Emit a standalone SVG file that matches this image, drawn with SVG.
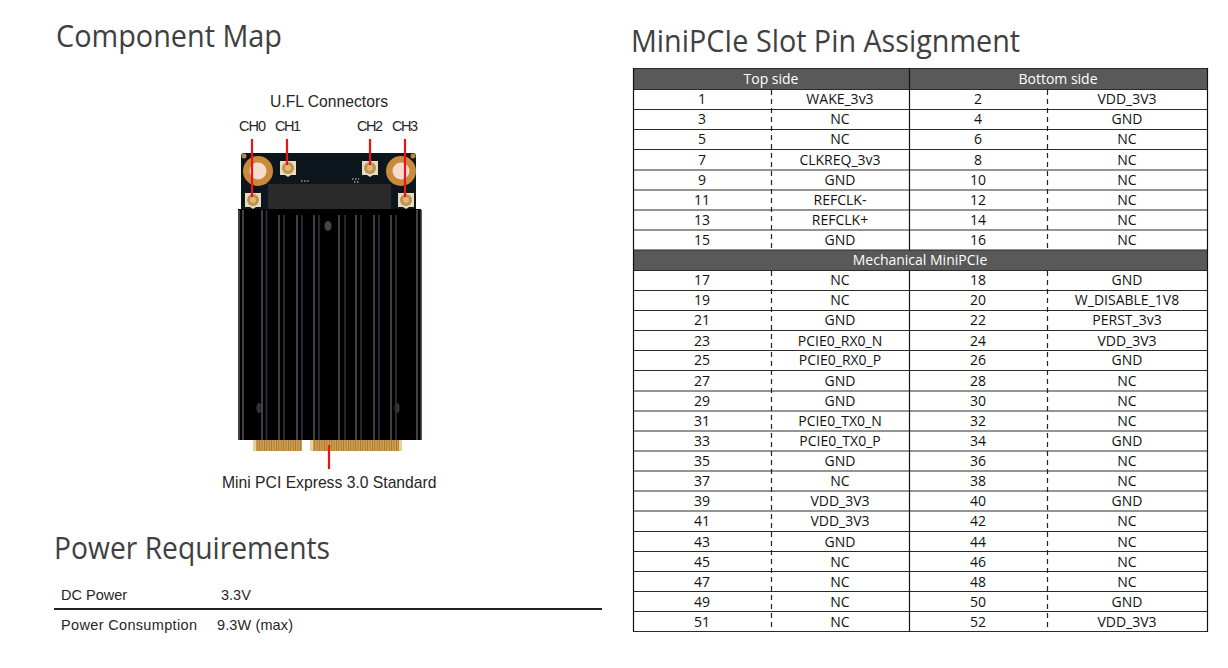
<svg xmlns="http://www.w3.org/2000/svg" width="1228" height="668" viewBox="0 0 1228 668">
<style>
text{font-family:"Open Sans","Noto Sans","Liberation Sans",sans-serif;fill:#1a1a1a}
.h{font-size:31px;fill:#404040}
.a{font-family:"Liberation Sans",Arial,sans-serif;font-size:14.5px;fill:#262626}
.a2{font-size:15.7px}
.c{font-size:14px;text-anchor:middle;fill:#111}
.w{fill:#fff}
.r{stroke:#2a2a2a;stroke-width:1.2}
.d{stroke:#222;stroke-width:1.2;stroke-dasharray:5 4}
.v{stroke:#111;stroke-width:1.2}
.red{stroke:#e8141c;stroke-width:2.2}
.fin{stroke:#7d7d7d;stroke-width:1}
.finb{stroke:#2d3042;stroke-width:1.6}
</style>
<defs>
<filter id="b" x="-5%" y="-5%" width="110%" height="110%"><feGaussianBlur stdDeviation="0.6"/></filter>
<pattern id="pins" width="2.4" height="14" patternUnits="userSpaceOnUse"><rect width="2.4" height="14" fill="#cfa055"/><rect width="0.9" height="14" fill="#a8762f"/></pattern>
<g id="ufl"><path d="M-8-7H8V7H3L0 9-3 7H-8Z" fill="#e6dcc4"/><circle r="6" fill="#c0924e"/><circle r="3" fill="#e0b878"/></g>
</defs>
<rect width="1228" height="668" fill="#fff"/>
<text class="h" x="56" y="47" textLength="226" lengthAdjust="spacingAndGlyphs">Component Map</text>
<text class="h" x="54" y="559" textLength="276" lengthAdjust="spacingAndGlyphs">Power Requirements</text>
<text class="h" x="631" y="52" textLength="389" lengthAdjust="spacingAndGlyphs">MiniPCIe Slot Pin Assignment</text>

<g id="photo" filter="url(#b)">
<rect x="241" y="153" width="175" height="60" rx="3" fill="#10141c"/>
<circle cx="244" cy="156" r="2.500" fill="#b58a3c"/><circle cx="413" cy="156" r="2.500" fill="#b58a3c"/>
<circle cx="258" cy="171" r="15" fill="#c98a3a"/><circle cx="258" cy="171" r="8.500" fill="#f6dccf"/>
<circle cx="401" cy="171" r="15" fill="#c98a3a"/><circle cx="401" cy="171" r="8.500" fill="#f6dccf"/>
<use href="#ufl" x="288" y="168"/><use href="#ufl" x="370" y="168"/>
<path d="M301 181h9M352 179h7M354 182h6" stroke="#ddd" stroke-width="1" stroke-dasharray="1.500 1.500"/>
<rect x="253" y="438" width="49" height="13" fill="url(#pins)"/>
<rect x="310" y="438" width="92" height="13" fill="url(#pins)"/>
<rect x="253" y="438" width="3" height="13" fill="#e6d29b"/><rect x="310" y="438" width="3" height="13" fill="#e6d29b"/><rect x="399" y="438" width="3" height="13" fill="#e6d29b"/>
<rect x="238" y="209" width="183" height="231" fill="#050505"/>
<rect x="268" y="184" width="123" height="25" fill="#2a2a2c"/>
<use href="#ufl" x="253" y="200"/><use href="#ufl" x="406" y="200"/>
<g class="fin">
<path d="M239 210V440M243 210V440M262 210V440M279 215V440M297 215V440M314 215V440M339 215V440M356 215V440M374 215V440M391 215V440M417 210V440"/>
</g>
<g class="finb">
<path d="M266.500 210V440M284 215V440M302 215V440M319 215V440M345 215V440M361 215V440M379 215V440M396 215V440M421 210V440"/>
</g>
<ellipse cx="328" cy="226" rx="3.500" ry="5" fill="#444"/>
<ellipse cx="259" cy="408" rx="2.500" ry="5" fill="#333"/>
<ellipse cx="397" cy="408" rx="2.500" ry="5" fill="#333"/>
</g>

<g id="callouts">
<path class="red" d="M252 139V197M287 139V165M370 139V165M405 139V197M329 445V469"/>
<text class="a a2" x="270" y="107">U.FL Connectors</text>
<text class="a" x="239" y="131" textLength="27">CH0</text><text class="a" x="275" y="131" textLength="26">CH1</text>
<text class="a" x="357" y="131" textLength="26">CH2</text><text class="a" x="392" y="131" textLength="26">CH3</text>
<text class="a a2" x="222" y="488">Mini PCI Express 3.0 Standard</text>
</g>

<g id="power">
<text class="a" x="61" y="600">DC Power</text><text class="a" x="221" y="600">3.3V</text>
<path d="M54 609H602" stroke="#222" stroke-width="2"/>
<text class="a" x="61" y="630" textLength="136">Power Consumption</text><text class="a" x="217" y="630" textLength="76">9.3W (max)</text>
</g>

<g id="pin-table">
<rect x="633" y="68" width="575" height="21" fill="#595959"/>
<rect x="633" y="250" width="575" height="20" fill="#595959"/>
<g class="r"><path d="M633 89.500H1208M633 109.500H1208M633 129.500H1208M633 149.500H1208M633 170H1208M633 190H1208M633 210H1208M633 230H1208M633 250H1208M633 270.500H1208M633 290.500H1208M633 310.500H1208M633 330.500H1208M633 350.500H1208M633 370.500H1208M633 391H1208M633 411H1208M633 431H1208M633 451H1208M633 471H1208M633 491H1208M633 511H1208M633 531.500H1208M633 551.500H1208M633 571.500H1208M633 591.500H1208M633 611.500H1208M633 631.500H1208M633 68.500H1208"/></g>
<path class="v" d="M633.500 68V632M909.500 68V250M909.500 270V632M1207.500 68V632"/>
<path class="d" d="M771.500 90V250M771.500 271V632M1047.500 90V250M1047.500 271V632"/>
<g>
<text class="c" style="fill:#fff" x="771" y="84">Top side</text><text class="c" style="fill:#fff" x="1058" y="84">Bottom side</text>
<text class="c" style="fill:#fff" x="920" y="265">Mechanical MiniPCIe</text>
<text class="c" x="702" y="104">1</text><text class="c" x="840" y="104">WAKE_3v3</text><text class="c" x="978" y="104">2</text><text class="c" x="1127" y="104">VDD_3V3</text>
<text class="c" x="702" y="124">3</text><text class="c" x="840" y="124">NC</text><text class="c" x="978" y="124">4</text><text class="c" x="1127" y="124">GND</text>
<text class="c" x="702" y="144">5</text><text class="c" x="840" y="144">NC</text><text class="c" x="978" y="144">6</text><text class="c" x="1127" y="144">NC</text>
<text class="c" x="702" y="165">7</text><text class="c" x="840" y="165">CLKREQ_3v3</text><text class="c" x="978" y="165">8</text><text class="c" x="1127" y="165">NC</text>
<text class="c" x="702" y="185">9</text><text class="c" x="840" y="185">GND</text><text class="c" x="978" y="185">10</text><text class="c" x="1127" y="185">NC</text>
<text class="c" x="702" y="205">11</text><text class="c" x="840" y="205">REFCLK-</text><text class="c" x="978" y="205">12</text><text class="c" x="1127" y="205">NC</text>
<text class="c" x="702" y="225">13</text><text class="c" x="840" y="225">REFCLK+</text><text class="c" x="978" y="225">14</text><text class="c" x="1127" y="225">NC</text>
<text class="c" x="702" y="245">15</text><text class="c" x="840" y="245">GND</text><text class="c" x="978" y="245">16</text><text class="c" x="1127" y="245">NC</text>
<text class="c" x="702" y="285">17</text><text class="c" x="840" y="285">NC</text><text class="c" x="978" y="285">18</text><text class="c" x="1127" y="285">GND</text>
<text class="c" x="702" y="305">19</text><text class="c" x="840" y="305">NC</text><text class="c" x="978" y="305">20</text><text class="c" x="1127" y="305">W_DISABLE_1V8</text>
<text class="c" x="702" y="325">21</text><text class="c" x="840" y="325">GND</text><text class="c" x="978" y="325">22</text><text class="c" x="1127" y="325">PERST_3v3</text>
<text class="c" x="702" y="346">23</text><text class="c" x="840" y="346">PCIE0_RX0_N</text><text class="c" x="978" y="346">24</text><text class="c" x="1127" y="346">VDD_3V3</text>
<text class="c" x="702" y="365">25</text><text class="c" x="840" y="365">PCIE0_RX0_P</text><text class="c" x="978" y="365">26</text><text class="c" x="1127" y="365">GND</text>
<text class="c" x="702" y="386">27</text><text class="c" x="840" y="386">GND</text><text class="c" x="978" y="386">28</text><text class="c" x="1127" y="386">NC</text>
<text class="c" x="702" y="406">29</text><text class="c" x="840" y="406">GND</text><text class="c" x="978" y="406">30</text><text class="c" x="1127" y="406">NC</text>
<text class="c" x="702" y="426">31</text><text class="c" x="840" y="426">PCIE0_TX0_N</text><text class="c" x="978" y="426">32</text><text class="c" x="1127" y="426">NC</text>
<text class="c" x="702" y="446">33</text><text class="c" x="840" y="446">PCIE0_TX0_P</text><text class="c" x="978" y="446">34</text><text class="c" x="1127" y="446">GND</text>
<text class="c" x="702" y="466">35</text><text class="c" x="840" y="466">GND</text><text class="c" x="978" y="466">36</text><text class="c" x="1127" y="466">NC</text>
<text class="c" x="702" y="486">37</text><text class="c" x="840" y="486">NC</text><text class="c" x="978" y="486">38</text><text class="c" x="1127" y="486">NC</text>
<text class="c" x="702" y="506">39</text><text class="c" x="840" y="506">VDD_3V3</text><text class="c" x="978" y="506">40</text><text class="c" x="1127" y="506">GND</text>
<text class="c" x="702" y="526">41</text><text class="c" x="840" y="526">VDD_3V3</text><text class="c" x="978" y="526">42</text><text class="c" x="1127" y="526">NC</text>
<text class="c" x="702" y="547">43</text><text class="c" x="840" y="547">GND</text><text class="c" x="978" y="547">44</text><text class="c" x="1127" y="547">NC</text>
<text class="c" x="702" y="567">45</text><text class="c" x="840" y="567">NC</text><text class="c" x="978" y="567">46</text><text class="c" x="1127" y="567">NC</text>
<text class="c" x="702" y="587">47</text><text class="c" x="840" y="587">NC</text><text class="c" x="978" y="587">48</text><text class="c" x="1127" y="587">NC</text>
<text class="c" x="702" y="607">49</text><text class="c" x="840" y="607">NC</text><text class="c" x="978" y="607">50</text><text class="c" x="1127" y="607">GND</text>
<text class="c" x="702" y="627">51</text><text class="c" x="840" y="627">NC</text><text class="c" x="978" y="627">52</text><text class="c" x="1127" y="627">VDD_3V3</text>
</g>
</g>
</svg>
